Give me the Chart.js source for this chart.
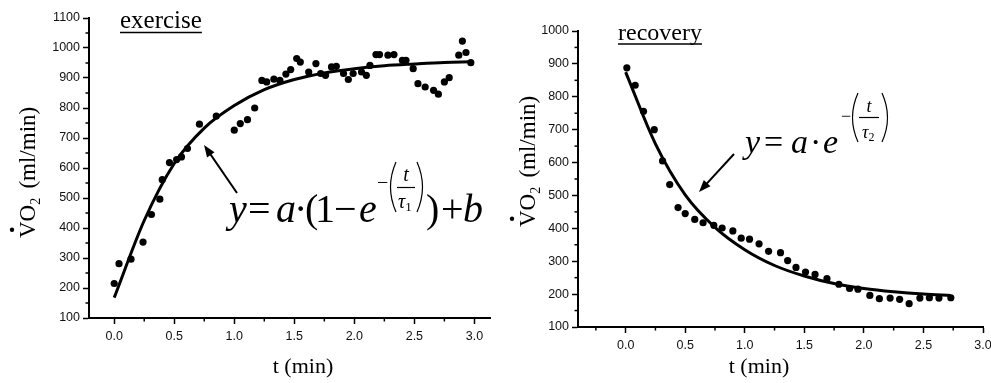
<!DOCTYPE html>
<html>
<head>
<meta charset="utf-8">
<script src="https://cdn.jsdelivr.net/npm/chart.js@4.4.0/dist/chart.umd.min.js"></script>
<style>
  html, body { margin: 0; padding: 0; background: #fff; }
  #wrap { position: relative; width: 991px; height: 383px; }
  #wrap canvas { position: absolute; left: 0; top: 0; }
</style>
</head>
<body>
<div id="wrap">
  <canvas id="exChart" width="991" height="383"></canvas>
  <canvas id="recChart" width="991" height="383"></canvas>
</div>
<script>
const SERIF = "'Liberation Serif', 'Times New Roman', serif";
const SANS = "'Liberation Sans', Arial, sans-serif";

// exercise: measured points (t in min, VO2 in ml/min)
const exTime = [0.00, 0.04, 0.14, 0.24, 0.31, 0.38, 0.40, 0.46, 0.52, 0.56, 0.61, 0.71, 0.85,
  1.00, 1.05, 1.11, 1.17, 1.23, 1.27, 1.33, 1.38, 1.43, 1.47, 1.52, 1.55, 1.62, 1.68, 1.72,
  1.76, 1.81, 1.85, 1.91, 1.95, 1.99, 2.06, 2.10, 2.13, 2.18, 2.21, 2.28, 2.33, 2.40, 2.43,
  2.49, 2.53, 2.59, 2.66, 2.70, 2.75, 2.79, 2.87, 2.90, 2.93, 2.97];
const exVO2 = [215, 281, 296, 353, 445, 496, 561, 618, 628, 637, 665, 746, 773,
  726, 748, 761, 800, 892, 887, 896, 892, 913, 928, 965, 953, 920, 948, 915,
  909, 937, 939, 915, 895, 915, 920, 909, 942, 978, 978, 976, 978, 959, 959,
  931, 881, 870, 859, 846, 887, 901, 976, 1023, 985, 951];
// exercise: fitted curve
const exFitTime = [0, 0.25, 0.5, 0.75, 1.0, 1.25, 1.5, 1.75, 2.0, 2.25, 2.5, 2.75, 2.97];
const exFitVO2 = [168, 425, 615, 733, 808, 861, 895, 917, 931, 941, 947, 952, 954];

// recovery: measured points
const recTime = [0.01, 0.08, 0.15, 0.24, 0.31, 0.37, 0.44, 0.50, 0.58, 0.65, 0.74, 0.81, 0.90,
  0.97, 1.04, 1.12, 1.20, 1.30, 1.36, 1.43, 1.51, 1.59, 1.69, 1.79, 1.88, 1.95, 2.05, 2.13,
  2.22, 2.30, 2.38, 2.47, 2.55, 2.63, 2.73];
const recVO2 = [888, 835, 756, 700, 605, 533, 463, 445, 427, 417, 409, 401, 392,
  370, 367, 353, 330, 326, 302, 281, 267, 260, 247, 230, 217, 215, 196, 186,
  188, 184, 171, 188, 189, 188, 189];
// recovery: fitted curve
const recFitTime = [0, 0.25, 0.5, 0.75, 1.0, 1.25, 1.5, 1.75, 2.0, 2.25, 2.5, 2.73];
const recFitVO2 = [875, 657, 502, 403, 335, 287, 255, 232, 217, 207, 200, 196];

// ticks
const xTickVals = [0, 0.5, 1.0, 1.5, 2.0, 2.5, 3.0];
const xTickLabels = ['0.0', '0.5', '1.0', '1.5', '2.0', '2.5', '3.0'];
const exYTicks = [100, 200, 300, 400, 500, 600, 700, 800, 900, 1000, 1100];
const recYTicks = [100, 200, 300, 400, 500, 600, 700, 800, 900, 1000];
const exXMinor = [0.25, 0.75, 1.25, 1.75, 2.25, 2.75];
const recXMinor = [-0.25, 0.25, 0.75, 1.25, 1.75, 2.25, 2.75];
const exYMinor = [150, 250, 350, 450, 550, 650, 750, 850, 950, 1050];
const recYMinor = [150, 250, 350, 450, 550, 650, 750, 850, 950];

function pairs(xs, ys) {
  return xs.map(function (x, i) { return { x: x, y: ys[i] }; });
}

function put(ctx, s, x, y, font) {
  ctx.font = font;
  ctx.fillText(s, x, y);
  return ctx.measureText(s).width;
}

function arrow(ctx, x1, y1, x2, y2) {
  var ang = Math.atan2(y2 - y1, x2 - x1), L = 12, W = 4.5;
  var c = Math.cos(ang), s = Math.sin(ang);
  ctx.save();
  ctx.strokeStyle = '#000';
  ctx.fillStyle = '#000';
  ctx.lineWidth = 2;
  ctx.beginPath();
  ctx.moveTo(x1, y1);
  ctx.lineTo(x2 - L * 0.7 * c, y2 - L * 0.7 * s);
  ctx.stroke();
  ctx.beginPath();
  ctx.moveTo(x2, y2);
  ctx.lineTo(x2 - L * c + W * s, y2 - L * s - W * c);
  ctx.lineTo(x2 - L * c - W * s, y2 - L * s + W * c);
  ctx.closePath();
  ctx.fill();
  ctx.restore();
}

function paren(ctx, x, top, bot, bulge) {
  ctx.beginPath();
  ctx.moveTo(x, top);
  ctx.quadraticCurveTo(x + bulge, (top + bot) / 2, x, bot);
  ctx.stroke();
}

// exponent block: -(t / tau_n)
function exponent(ctx, o) {
  ctx.save();
  ctx.lineWidth = 1.2;
  ctx.strokeStyle = '#000';
  put(ctx, '\u2212', o.minusX, o.minusY, o.size + 'px ' + SERIF);
  paren(ctx, o.lp, o.top, o.bot, -11);
  paren(ctx, o.rp, o.top, o.bot, 11);
  ctx.textAlign = 'center';
  put(ctx, 't', o.cx, o.tY, 'italic ' + o.size + 'px ' + SERIF);
  ctx.beginPath();
  ctx.moveTo(o.cx - o.bar, o.barY);
  ctx.lineTo(o.cx + o.bar, o.barY);
  ctx.stroke();
  ctx.textAlign = 'left';
  var w = put(ctx, '\u03C4', o.tauX, o.tauY, 'italic ' + o.size + 'px ' + SERIF);
  put(ctx, o.sub, o.tauX + w, o.tauY + 3, Math.round(o.size * 0.65) + 'px ' + SERIF);
  ctx.restore();
}

function yTitle(ctx, xb, yStart, size) {
  ctx.save();
  ctx.translate(xb, yStart);
  ctx.rotate(-Math.PI / 2);
  ctx.fillStyle = '#000';
  var x = 0;
  var vw = put(ctx, 'V', x, 0, size + 'px ' + SERIF);
  ctx.beginPath();
  ctx.arc(vw * 0.5, -size * 1.0, 2.2, 0, Math.PI * 2);
  ctx.fill();
  x += vw;
  x += put(ctx, 'O', x, 0, size + 'px ' + SERIF);
  x += put(ctx, '2', x, size * 0.22, Math.round(size * 0.62) + 'px ' + SERIF);
  x += size * 0.4;
  put(ctx, '(ml/min)', x, 0, size + 'px ' + SERIF);
  ctx.restore();
}

function minorTicks(chart, xs, ys) {
  var ctx = chart.ctx, a = chart.chartArea;
  var sx = chart.scales.x, sy = chart.scales.y;
  ctx.save();
  ctx.strokeStyle = '#000';
  ctx.lineWidth = 1.5;
  xs.forEach(function (v) {
    var px = sx.getPixelForValue(v);
    ctx.beginPath(); ctx.moveTo(px, a.bottom); ctx.lineTo(px, a.bottom + 3.5); ctx.stroke();
  });
  ys.forEach(function (v) {
    var py = sy.getPixelForValue(v);
    ctx.beginPath(); ctx.moveTo(a.left, py); ctx.lineTo(a.left - 3.5, py); ctx.stroke();
  });
  ctx.restore();
}

const exDecor = {
  id: 'exDecor',
  afterDraw: function (chart) {
    var ctx = chart.ctx;
    minorTicks(chart, exXMinor, exYMinor);
    ctx.save();
    ctx.fillStyle = '#000';
    ctx.strokeStyle = '#000';
    // panel title
    var w = put(ctx, 'exercise', 120, 28, '25px ' + SERIF);
    ctx.lineWidth = 1.5;
    ctx.beginPath(); ctx.moveTo(120, 32.5); ctx.lineTo(120 + w, 32.5); ctx.stroke();
    // axis titles
    yTitle(ctx, 35, 238, 23);
    ctx.textAlign = 'center';
    put(ctx, 't (min)', 303, 373, '22px ' + SERIF);
    ctx.textAlign = 'left';
    // equation y = a(1 - e^-(t/tau1)) + b
    var it = 'italic 40px ' + SERIF, up = '40px ' + SERIF;
    put(ctx, 'y', 229, 222, it);
    put(ctx, '=', 248, 222, up);
    put(ctx, 'a', 276, 222, it);
    put(ctx, '\u00B7', 294, 222, up);
    put(ctx, '(', 305, 222, up);
    put(ctx, '1', 315, 222, up);
    put(ctx, '\u2212', 334, 222, up);
    put(ctx, 'e', 359, 222, it);
    exponent(ctx, { size: 20, minusX: 377, minusY: 189, lp: 396, rp: 417, top: 162, bot: 212,
      cx: 406, tY: 181, bar: 9, barY: 187.5, tauX: 398, tauY: 208, sub: '1' });
    put(ctx, ')', 426, 222, up);
    put(ctx, '+', 441, 222, up);
    put(ctx, 'b', 463, 222, it);
    ctx.restore();
    arrow(ctx, 237, 193, 204, 145);
  }
};

const recDecor = {
  id: 'recDecor',
  afterDraw: function (chart) {
    var ctx = chart.ctx;
    minorTicks(chart, recXMinor, recYMinor);
    ctx.save();
    ctx.fillStyle = '#000';
    ctx.strokeStyle = '#000';
    var w = put(ctx, 'recovery', 618, 40, '24px ' + SERIF);
    ctx.lineWidth = 1.5;
    ctx.beginPath(); ctx.moveTo(618, 44); ctx.lineTo(618 + w, 44); ctx.stroke();
    yTitle(ctx, 535, 227, 23);
    ctx.textAlign = 'center';
    put(ctx, 't (min)', 759, 373, '22px ' + SERIF);
    ctx.textAlign = 'left';
    // equation y = a e^-(t/tau2)
    var it = 'italic 34px ' + SERIF, up = '34px ' + SERIF;
    put(ctx, 'y', 745, 153, it);
    put(ctx, '=', 764, 153, up);
    put(ctx, 'a', 791, 153, it);
    put(ctx, '\u00B7', 810, 153, up);
    put(ctx, 'e', 823, 153, it);
    exponent(ctx, { size: 18, minusX: 841, minusY: 122, lp: 858, rp: 882, top: 93, bot: 142,
      cx: 869, tY: 112, bar: 10, barY: 117.5, tauX: 862, tauY: 138, sub: '2' });
    ctx.restore();
    arrow(ctx, 734, 154, 699, 192);
  }
};

function makeChart(id, cfg, decor) {
  return new Chart(document.getElementById(id), {
    type: 'scatter',
    data: {
      datasets: [
        {
          data: pairs(cfg.t, cfg.v),
          pointRadius: 3.6,
          pointHoverRadius: 3.6,
          pointBackgroundColor: '#000',
          pointBorderWidth: 0
        },
        {
          data: pairs(cfg.fitT, cfg.fitV),
          showLine: true,
          borderColor: '#000',
          borderWidth: 3,
          pointRadius: 0,
          cubicInterpolationMode: 'monotone',
          fill: false
        }
      ]
    },
    options: {
      responsive: false,
      animation: false,
      events: [],
      layout: { padding: cfg.pad },
      plugins: { legend: { display: false }, tooltip: { enabled: false } },
      scales: {
        x: {
          type: 'linear',
          min: cfg.xMin,
          max: cfg.xMax,
          afterBuildTicks: function (s) { s.ticks = xTickVals.map(function (v) { return { value: v }; }); },
          afterFit: function (s) { s.height = cfg.xH; s.paddingLeft = 0; s.paddingRight = 0; },
          ticks: {
            autoSkip: false, maxRotation: 0, padding: 5, color: '#111',
            font: { family: SANS, size: 12.5 },
            callback: function (v) { return xTickLabels[xTickVals.indexOf(v)]; }
          },
          grid: { drawOnChartArea: false, tickLength: 6, tickWidth: 1.5, tickColor: '#000' },
          border: { color: '#000', width: 2 }
        },
        y: {
          type: 'linear',
          min: cfg.yMin,
          max: cfg.yMax,
          afterBuildTicks: function (s) { s.ticks = cfg.yTicks.map(function (v) { return { value: v }; }); },
          afterFit: function (s) { s.width = cfg.yW; s.paddingTop = 0; s.paddingBottom = 0; },
          ticks: {
            autoSkip: false, padding: 3, color: '#111',
            font: { family: SANS, size: 12.5 },
            callback: function (v) { return String(v); }
          },
          grid: { drawOnChartArea: false, tickLength: 6, tickWidth: 1.5, tickColor: '#000' },
          border: { color: '#000', width: 2 }
        }
      }
    },
    plugins: [decor]
  });
}

makeChart('exChart', {
  t: exTime, v: exVO2, fitT: exFitTime, fitV: exFitVO2,
  xMin: -0.21, xMax: 3.13, yMin: 100, yMax: 1100, yTicks: exYTicks,
  yW: 89, xH: 65, pad: { left: 0, top: 18, right: 501, bottom: 0 }
}, exDecor);

makeChart('recChart', {
  t: recTime, v: recVO2, fitT: recFitTime, fitV: recFitVO2,
  xMin: -0.4, xMax: 3.0, yMin: 100, yMax: 1000, yTicks: recYTicks,
  yW: 78, xH: 56, pad: { left: 500, top: 31, right: 8, bottom: 0 }
}, recDecor);
</script>
</body>
</html>
